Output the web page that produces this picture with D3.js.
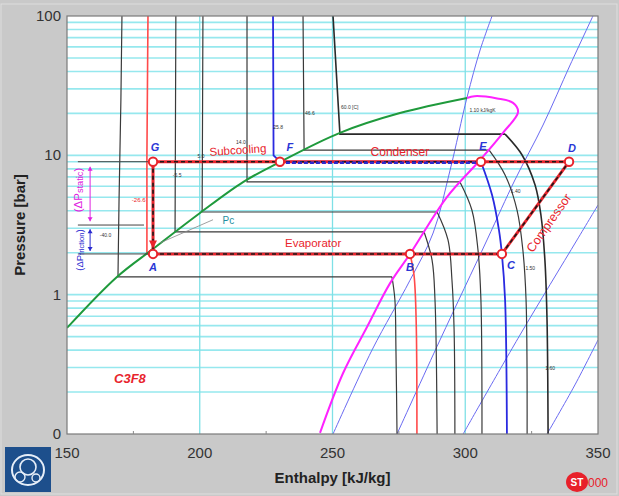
<!DOCTYPE html>
<html><head><meta charset="utf-8">
<script src="https://cdn.jsdelivr.net/npm/d3@7"></script>
<style>body{margin:0;background:#c8c8c8;}svg{display:block}</style>
</head><body>
<svg id="c" width="619" height="496"></svg>
<script>
// ---------- data ----------
const hDomain = [150, 350];
const pDomain = [0.1, 100];
const xTicks = [150, 200, 250, 300, 350];
const yTicks = [0.1, 1, 10, 100];
const yTickLabels = ["0", "1", "10", "100"];
const xGrid = [200, 250, 300];

// saturation curves [h kJ/kg, P bar]
const satLiquid = [[150,0.577],[168.8,1.34],[182.4,2.13],[200.1,3.86],[216.3,6.43],[230.2,8.96],[252.8,14.5],[275.4,20.1],[300.7,25.8]];
const satVapor = [[300.7,25.8],[303.5,26.6],[312,25.6],[318,23.8],[319.9,20.5],[314.2,14.5],[305.6,9.26],[293.1,5.02],[279.2,1.96],[271.7,1.21],[263,0.586],[254,0.274],[245.3,0.102]];

// isotherms
const isoT1 = [[170.7,100],[170.3,25],[169.6,4.8],[169.2,1.34],[272.4,1.34],[273.5,0.92],[273.9,0.40],[274.3,0.1]];
const isoEvap = [[180.5,100],[180.1,10],[180.1,1.96],[279.2,1.96],[280.7,1.38],[281.5,0.66],[281.8,0.1]];
const isoT3 = [[191.0,100],[190.7,2.82],[284.5,2.82],[287.5,1.77],[288.6,0.92],[289.4,0.1]];
const isoT4 = [[201.2,100],[200.9,3.92],[289.4,3.92],[293.5,2.47],[295.0,1.27],[295.8,0.56],[296.1,0.1]];
const isoT5 = [[217.8,100],[217.8,6.44],[298.0,6.44],[302.5,4.05],[304.8,2.09],[305.9,0.92],[306.3,0.1]];
const isoCond = [[227.6,100],[227.8,10.0],[230.2,9.0],[305.9,9.0],[310.1,5.19],[312.7,2.91],[313.8,1.96],[315.0,0.92],[315.7,0.1]];
const isoT7 = [[238.9,100],[239.3,10.9],[309.0,10.9],[315.0,7.23],[319.5,4.05],[321.7,2.09],[322.9,0.92],[323.3,0.1]];
const isoT8 = [[250.2,100],[252.8,14.2],[315.0,14.2],[321.4,10.06],[326.3,6.12],[328.5,3.73],[330.0,1.77],[330.8,0.66],[331.2,0.1]];

// isentropes
const isenS1 = [[250.2,0.1],[264.9,0.401],[279.2,1.27],[287.9,2.77],[294.3,7.85],[300.7,26.2],[305.6,57],[310.1,100]];
const isenS2 = [[274.3,0.1],[290.5,0.473],[308.2,2.47],[318.7,6.65],[329.3,16.5],[339.5,44.5],[348.1,100]];
const isenS3 = [[299.2,0.1],[320.6,0.513],[342.1,2.47],[350,4.4]];
const isenS4 = [[330.8,0.1],[341.3,0.225],[350,0.473]];

// refrigeration cycle
const cycleNames = ["A","B","C","D","E","F","G"];
const cycleH = [182.4, 279.2, 313.8, 339.1, 305.9, 230.2, 182.4];
const cycleP = [1.96, 1.96, 1.96, 9.0, 9.0, 9.0, 9.0];

// small value labels on the lines
const smallText = ["-40.0","-5.5","5.0","14.0","25.8","46.6","60.0 [C]","1.10 kJ/kgK","1.40","1.50","1.60"];
const smallH = [164.5, 191.5, 200.5, 215.5, 229.5, 241.5, 256.5, 306.5, 319.0, 324.5, 332.0];
const smallP = [2.6, 7.0, 9.6, 12.0, 15.5, 19.5, 21.5, 20.5, 5.4, 1.5, 0.29];
const smallRed = ["-26.6"];
const smallRedH = [177.0];
const smallRedP = [4.6];

// ---------- drawing ----------
const svg = d3.select("#c");
const L = 67, R = 598, T = 16, B = 434;
const x = d3.scaleLinear().domain(hDomain).range([L, R]);
const y = d3.scaleLog().domain(pDomain).range([B, T]);
const font = "'Liberation Sans', Arial, sans-serif";

svg.append("rect").attr("width",619).attr("height",496).attr("fill","#c9c9c9");
svg.append("rect").attr("x",1).attr("y",4).attr("width",616).attr("height",490).attr("fill","none").attr("stroke","#dedede");

svg.append("defs").append("clipPath").attr("id","plot")
  .append("rect").attr("x",L).attr("y",T).attr("width",R-L).attr("height",B-T);

svg.append("rect").attr("x",L).attr("y",T).attr("width",R-L).attr("height",B-T).attr("fill","#ffffff");

const g = svg.append("g").attr("clip-path","url(#plot)");

// grid
const hLines = [];
[0.1,1,10].forEach(d => { for (let m=1;m<10;m++) { const v=d*m; if (v>0.1) hLines.push(v);} });
g.selectAll(".hg").data(hLines).enter().append("line")
  .attr("x1",L).attr("x2",R).attr("y1",d=>y(d)).attr("y2",d=>y(d))
  .attr("stroke","#96e8ee").attr("stroke-width",1.6);
g.selectAll(".vg").data(xGrid).enter().append("line")
  .attr("y1",T).attr("y2",B).attr("x1",d=>x(d)).attr("x2",d=>x(d))
  .attr("stroke","#7fe0e6").attr("stroke-width",1.3);

const lin = d3.line().x(d=>x(d[0])).y(d=>y(d[1]));
const smooth = d3.line().x(d=>x(d[0])).y(d=>y(d[1])).curve(d3.curveCatmullRom.alpha(0.5));

function drawIso(pts, color, w) {
  let i = 1;
  while (i < pts.length && pts[i][1] !== pts[i-1][1]) i++;
  const liq = pts.slice(0, i+1);
  const vap = pts.slice(i);
  g.append("path").attr("d", lin(liq)).attr("fill","none").attr("stroke",color).attr("stroke-width",w);
  g.append("path").attr("d", smooth(vap)).attr("fill","none").attr("stroke",color).attr("stroke-width",w);
}

// isentropes
[isenS1, isenS2, isenS3, isenS4].forEach(s => {
  g.append("path").attr("d", smooth(s)).attr("fill","none").attr("stroke","#6a6af2").attr("stroke-width",1);
});

// isotherms
[isoT1, isoT3, isoT4, isoT5, isoT7].forEach(t => drawIso(t, "#3a3a3a", 1.2));
drawIso(isoT8, "#2a2a2a", 1.6);
drawIso(isoEvap, "#ff4a4a", 1.6);
drawIso(isoCond, "#2a2ae0", 1.8);

// saturation curves
g.append("path").attr("d", smooth(satLiquid)).attr("fill","none").attr("stroke","#1f9a3c").attr("stroke-width",2);
g.append("path").attr("d", smooth(satVapor)).attr("fill","none").attr("stroke","#ff22ff").attr("stroke-width",2);

// ΔP reference lines
const hRefL = 154.1;
[[9.0,182.4],[3.16,179.0],[1.96,182.4]].forEach(r => {
  g.append("line").attr("x1",x(hRefL)).attr("x2",x(r[1])).attr("y1",y(r[0])).attr("y2",y(r[0]))
    .attr("stroke","#444").attr("stroke-width",1);
});
const hArrow = 158.7;
function arrow(p1, p2, color) {
  g.append("line").attr("x1",x(hArrow)).attr("x2",x(hArrow)).attr("y1",y(p1)+3).attr("y2",y(p2)-3)
    .attr("stroke",color).attr("stroke-width",1);
  const ax = x(hArrow);
  [[y(p1)+3,1],[y(p2)-3,-1]].forEach(a => {
    g.append("path").attr("d",`M${ax},${a[0]} l-2.5,${4*a[1]} l5,0 z`).attr("fill",color);
  });
}
arrow(8.7, 3.2, "#e020e0");
arrow(3.1, 1.96, "#2a2ad0");

// cycle
const pt = i => [x(cycleH[i]), y(cycleP[i])];
const segs = [[6,3],[0,2],[2,3],[6,0]];
segs.forEach(s => {
  const a = pt(s[0]), b = pt(s[1]);
  g.append("line").attr("x1",a[0]).attr("y1",a[1]).attr("x2",b[0]).attr("y2",b[1])
    .attr("stroke","#e8242c").attr("stroke-width",3);
  g.append("line").attr("x1",a[0]).attr("y1",a[1]).attr("x2",b[0]).attr("y2",b[1])
    .attr("stroke","#1a1a1a").attr("stroke-width",1.6).attr("stroke-dasharray","4,3");
});
// F -> E blue dashed
{
  const a = pt(5), b = pt(4);
  g.append("line").attr("x1",a[0]).attr("y1",a[1]+1).attr("x2",b[0]).attr("y2",b[1]+1)
    .attr("stroke","#2a2ad0").attr("stroke-width",2.4).attr("stroke-dasharray","4,2");
}
// red arrowhead above A
{
  const ax = x(cycleH[0]), ay = y(2.25);
  g.append("path").attr("d",`M${ax-4},${ay-5} L${ax+4},${ay-5} L${ax},${ay+3} z`).attr("fill","#e8242c");
}
g.selectAll(".cp").data(cycleNames).enter().append("circle")
  .attr("cx",(d,i)=>pt(i)[0]).attr("cy",(d,i)=>pt(i)[1]).attr("r",4.2)
  .attr("fill","#fff").attr("stroke","#e8242c").attr("stroke-width",2);

const labOff = {A:[0,17],B:[0,17],C:[9,15],D:[3,-10],E:[2,-12],F:[10,-11],G:[2,-11]};
g.selectAll(".cl").data(cycleNames).enter().append("text")
  .attr("x",(d,i)=>pt(i)[0]+labOff[d][0]).attr("y",(d,i)=>pt(i)[1]+labOff[d][1])
  .attr("text-anchor","middle").attr("font-family",font).attr("font-size",11)
  .attr("font-weight","bold").attr("font-style","italic").attr("fill","#2a36d6").text(d=>d);

// small labels
g.selectAll(".sl").data(smallText).enter().append("text")
  .attr("x",(d,i)=>x(smallH[i])).attr("y",(d,i)=>y(smallP[i]))
  .attr("text-anchor","middle").attr("font-family",font).attr("font-size",5)
  .attr("fill","#333").text(d=>d);
g.selectAll(".slr").data(smallRed).enter().append("text")
  .attr("x",(d,i)=>x(smallRedH[i])).attr("y",(d,i)=>y(smallRedP[i]))
  .attr("text-anchor","middle").attr("font-family",font).attr("font-size",6)
  .attr("fill","#e8242c").text(d=>d);

// annotations
function ann(txt, h, p, size, color, rot, extra) {
  const t = g.append("text").attr("x",x(h)).attr("y",y(p)).attr("text-anchor","middle")
    .attr("dominant-baseline","middle").attr("font-family",font).attr("font-size",size).attr("fill",color).text(txt);
  if (rot) t.attr("transform",`rotate(${rot},${x(h)},${y(p)})`);
  if (extra) extra(t);
  return t;
}
ann("Subcooling", 214.4, 10.74, 11.5, "#e8242c", -4);
ann("Condenser", 275.4, 10.4, 12, "#e8242c", 0);
ann("Evaporator", 242.7, 2.31, 11.5, "#e8242c", 0);
ann("Compressor", 331.8, 3.25, 12.5, "#e8242c", -55);
ann("C3F8", 173.7, 0.244, 13, "#e8242c", 0, t=>t.attr("font-weight","bold").attr("font-style","italic"));
ann("Pc", 210.8, 3.34, 10, "#1f8fa0", 0);
g.append("line").attr("x1",x(205.0)).attr("y1",y(3.45)).attr("x2",x(185.0)).attr("y2",y(2.35))
  .attr("stroke","#888").attr("stroke-width",0.8);

// vertical ΔP texts
function dp(sub, h, p, color, size) {
  const cx = x(h), cy = y(p);
  const t = g.append("text").attr("x",cx).attr("y",cy).attr("text-anchor","middle")
    .attr("dominant-baseline","middle").attr("font-family",font).attr("font-size",size)
    .attr("fill",color).attr("transform",`rotate(-90,${cx},${cy})`);
  t.append("tspan").text("(ΔP");
  t.append("tspan").attr("font-size",size*0.8).attr("dy",2).text(sub);
  t.append("tspan").attr("dy",-2).text(")");
}
dp("static", 154.6, 5.64, "#e020e0", 11.5);
dp("friction", 154.8, 2.09, "#2a2ad0", 9.5);

// frame
svg.append("rect").attr("x",L).attr("y",T).attr("width",R-L).attr("height",B-T)
  .attr("fill","none").attr("stroke","#7a7a7a").attr("stroke-width",1.2);
[175,225,275,325].forEach(v => {
  svg.append("line").attr("x1",x(v)).attr("x2",x(v)).attr("y1",B).attr("y2",B-3).attr("stroke","#888");
});

// tick labels
svg.selectAll(".xt").data(xTicks).enter().append("text")
  .attr("x",d=>x(d)).attr("y",B+24).attr("text-anchor","middle")
  .attr("font-family",font).attr("font-size",15).attr("fill","#333").text(d=>d);
svg.selectAll(".yt").data(yTicks).enter().append("text")
  .attr("x",L-6).attr("y",d=>y(d)+5).attr("text-anchor","end")
  .attr("font-family",font).attr("font-size",15).attr("fill","#333").text((d,i)=>yTickLabels[i]);

svg.append("text").attr("x",(L+R)/2).attr("y",483).attr("text-anchor","middle")
  .attr("font-family",font).attr("font-size",15).attr("font-weight","bold").attr("fill","#222")
  .text("Enthalpy [kJ/kg]");
svg.append("text").attr("transform",`translate(25,${(T+B)/2}) rotate(-90)`).attr("text-anchor","middle")
  .attr("font-family",font).attr("font-size",15).attr("font-weight","bold").attr("fill","#222")
  .text("Pressure [bar]");

// CERN-like logo
const lg = svg.append("g").attr("transform","translate(5,447)");
lg.append("rect").attr("width",46).attr("height",45).attr("fill","#1d4f8c");
lg.append("ellipse").attr("cx",23).attr("cy",23).attr("rx",16).attr("ry",15).attr("fill","none").attr("stroke","#e6eef8").attr("stroke-width",2);
lg.append("circle").attr("cx",23).attr("cy",20).attr("r",8).attr("fill","none").attr("stroke","#e6eef8").attr("stroke-width",1.6);
lg.append("circle").attr("cx",15).attr("cy",30).attr("r",5).attr("fill","none").attr("stroke","#e6eef8").attr("stroke-width",1.4);
lg.append("circle").attr("cx",31).attr("cy",31).attr("r",4).attr("fill","none").attr("stroke","#e6eef8").attr("stroke-width",1.4);

// red logo
const rg = svg.append("g").attr("transform","translate(566,472)");
rg.append("ellipse").attr("cx",11).attr("cy",10).attr("rx",11).attr("ry",10).attr("fill","#e8202a");
rg.append("text").attr("x",11).attr("y",14).attr("text-anchor","middle").attr("font-family",font)
  .attr("font-size",10).attr("font-weight","bold").attr("fill","#fff").text("ST");
rg.append("text").attr("x",22).attr("y",15).attr("font-family",font).attr("font-size",12)
  .attr("fill","#e8202a").text("000");
</script>
</body></html>
